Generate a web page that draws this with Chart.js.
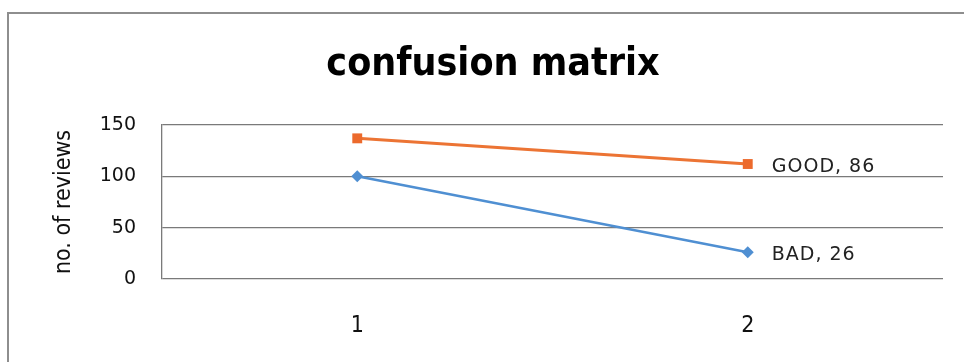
<!DOCTYPE html>
<html>
<head>
<meta charset="utf-8">
<script src="https://cdn.jsdelivr.net/npm/chart.js@4/dist/chart.umd.min.js"></script>
<style>
  html, body { margin: 0; padding: 0; background: #fff; }
  #wrap { position: relative; width: 964px; height: 362px; }
</style>
</head>
<body>
<div id="wrap"><canvas id="c" width="964" height="362"></canvas></div>
<script>
// Categories and stacked series values
const categories = ['1', '2'];
const badValues = [100, 26];
const goodValues = [37, 86];
const seriesNames = ['BAD', 'GOOD'];
const yTicks = [0, 50, 100, 150];
const chartTitle = 'confusion matrix';

const NARROW = '"Liberation Sans Narrow", "DejaVu Sans Condensed", "Arial Narrow", sans-serif';
const WIDE = '"DejaVu Sans", Verdana, sans-serif';

// Outer frame of the chart box and the heading, centred on the whole box
const framePlugin = {
  id: 'frame',
  beforeDraw(chart) {
    const ctx = chart.ctx;
    ctx.save();
    ctx.strokeStyle = '#8e8e8e';
    ctx.lineWidth = 2;
    ctx.beginPath();
    ctx.moveTo(8, 362);
    ctx.lineTo(8, 13);
    ctx.lineTo(964, 13);
    ctx.stroke();
    ctx.font = 'bold 39px ' + NARROW;
    ctx.fillStyle = '#000';
    ctx.textAlign = 'center';
    ctx.textBaseline = 'middle';
    ctx.fillText(chartTitle, 493, 65);
    ctx.restore();
  }
};

// "NAME, value" label next to the last point of each series
const endLabelPlugin = {
  id: 'endLabels',
  afterDatasetsDraw(chart) {
    const ctx = chart.ctx;
    ctx.save();
    ctx.font = '19px ' + WIDE;
    ctx.letterSpacing = '1px';
    ctx.fillStyle = '#222';
    ctx.textAlign = 'left';
    ctx.textBaseline = 'middle';
    chart.data.datasets.forEach((ds, i) => {
      const meta = chart.getDatasetMeta(i);
      const last = meta.data[meta.data.length - 1];
      const v = ds.data[ds.data.length - 1];
      ctx.fillText(ds.label + ', ' + v, last.x + 24, last.y + 3);
    });
    ctx.restore();
  }
};

new Chart(document.getElementById('c'), {
  type: 'line',
  data: {
    labels: categories,
    datasets: [
      {
        label: seriesNames[0],
        data: badValues,
        borderColor: '#4f8fd2',
        backgroundColor: '#4f8fd2',
        borderWidth: 2.5,
        pointStyle: 'rectRot',
        pointRadius: 6,
        pointBorderWidth: 0,
        tension: 0
      },
      {
        label: seriesNames[1],
        data: goodValues,
        borderColor: '#ec7434',
        backgroundColor: '#ec6a2c',
        borderWidth: 3,
        pointStyle: 'rect',
        pointRadius: 7,
        pointBorderWidth: 0,
        tension: 0
      }
    ]
  },
  options: {
    responsive: false,
    animation: false,
    layout: { padding: { left: 0, right: 21, top: 125, bottom: 0 } },
    plugins: {
      legend: { display: false },
      tooltip: { enabled: false },
      title: { display: false }
    },
    scales: {
      x: {
        offset: true,
        grid: { display: false, drawTicks: false },
        border: { display: false },
        ticks: { color: '#111', padding: 33, font: { family: NARROW, size: 23 } },
        afterFit(scale) { scale.height = 83; }
      },
      y: {
        stacked: true,
        min: 0,
        max: 150,
        afterBuildTicks(scale) { scale.ticks = yTicks.map(v => ({ value: v })); },
        grid: { color: '#7a7a7a', lineWidth: 1.3, drawTicks: false },
        border: { display: true, color: '#7a7a7a', width: 1.3 },
        ticks: { color: '#111', padding: 26, font: { family: WIDE, size: 19 } },
        title: {
          display: true,
          text: 'no. of reviews',
          color: '#111',
          font: { family: NARROW, size: 23 },
          padding: { top: 50, bottom: 0 }
        },
        afterFit(scale) { scale.width = 162; }
      }
    }
  },
  plugins: [framePlugin, endLabelPlugin]
});
</script>
</body>
</html>
